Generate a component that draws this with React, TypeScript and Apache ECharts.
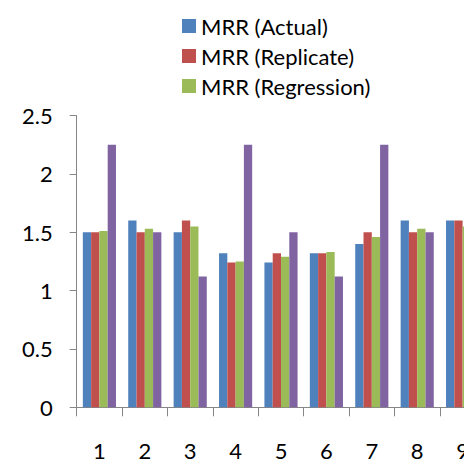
import React, { useEffect, useRef } from "react";
import * as echarts from "echarts";

const categories = ["1", "2", "3", "4", "5", "6", "7", "8", "9"];
const seriesNames = ["MRR (Actual)", "MRR (Replicate)", "MRR (Regression)", "Series 4"];
const actual = [1.5, 1.6, 1.5, 1.32, 1.24, 1.32, 1.4, 1.6, 1.6];
const replicate = [1.5, 1.5, 1.6, 1.24, 1.32, 1.32, 1.5, 1.5, 1.6];
const regression = [1.51, 1.53, 1.55, 1.25, 1.29, 1.33, 1.46, 1.53, 1.55];
const series4 = [2.25, 1.5, 1.12, 2.25, 1.5, 1.12, 2.25, 1.5, 1.5];
const colors = ["#4F81BD", "#C0504D", "#9BBB59", "#8064A2"];
const yTicks = { min: 0, max: 2.5, interval: 0.5 };

const FONT = "Lato, 'Open Sans', sans-serif";

export default function App() {
  const ref = useRef<HTMLDivElement>(null);

  useEffect(() => {
    if (!ref.current) return;
    const chart = echarts.init(ref.current, undefined, { renderer: "svg" });
    const values = [actual, replicate, regression, series4];
    chart.setOption({
      animation: false,
      color: colors,
      textStyle: { fontFamily: FONT },
      legend: {
        data: seriesNames.slice(0, 3),
        orient: "vertical",
        left: 177,
        top: 10,
        itemWidth: 14,
        itemHeight: 14,
        itemGap: 8,
        icon: "rect",
        textStyle: { fontFamily: FONT, fontSize: 22, color: "#000", lineHeight: 22 },
      },
      grid: {
        left: 76.7,
        top: 115.6,
        width: 408.6,
        bottom: 55.7,
        containLabel: false,
        outerBoundsMode: "none",
      },
      xAxis: {
        type: "category",
        data: categories,
        axisLine: { lineStyle: { color: "#868686", width: 1 } },
        axisTick: { show: true, length: 9, lineStyle: { color: "#868686" } },
        axisLabel: { fontFamily: FONT, fontSize: 22, color: "#000", margin: 32 },
      },
      yAxis: {
        type: "value",
        min: yTicks.min,
        max: yTicks.max,
        interval: yTicks.interval,
        splitLine: { show: false },
        axisLine: { show: true, lineStyle: { color: "#868686", width: 1 } },
        axisTick: { show: true, length: 7, lineStyle: { color: "#868686" } },
        axisLabel: { fontFamily: FONT, fontSize: 22, color: "#000", margin: 24 },
      },
      series: seriesNames.map((name, i) => ({
        name,
        type: "bar",
        data: values[i],
        barGap: "0%",
        barCategoryGap: "27%",
        itemStyle: { color: colors[i] },
      })),
    });
    return () => chart.dispose();
  }, []);

  return <div ref={ref} style={{ width: 464, height: 463, position: "absolute", left: 0, top: 0, background: "#fff" }} />;
}
